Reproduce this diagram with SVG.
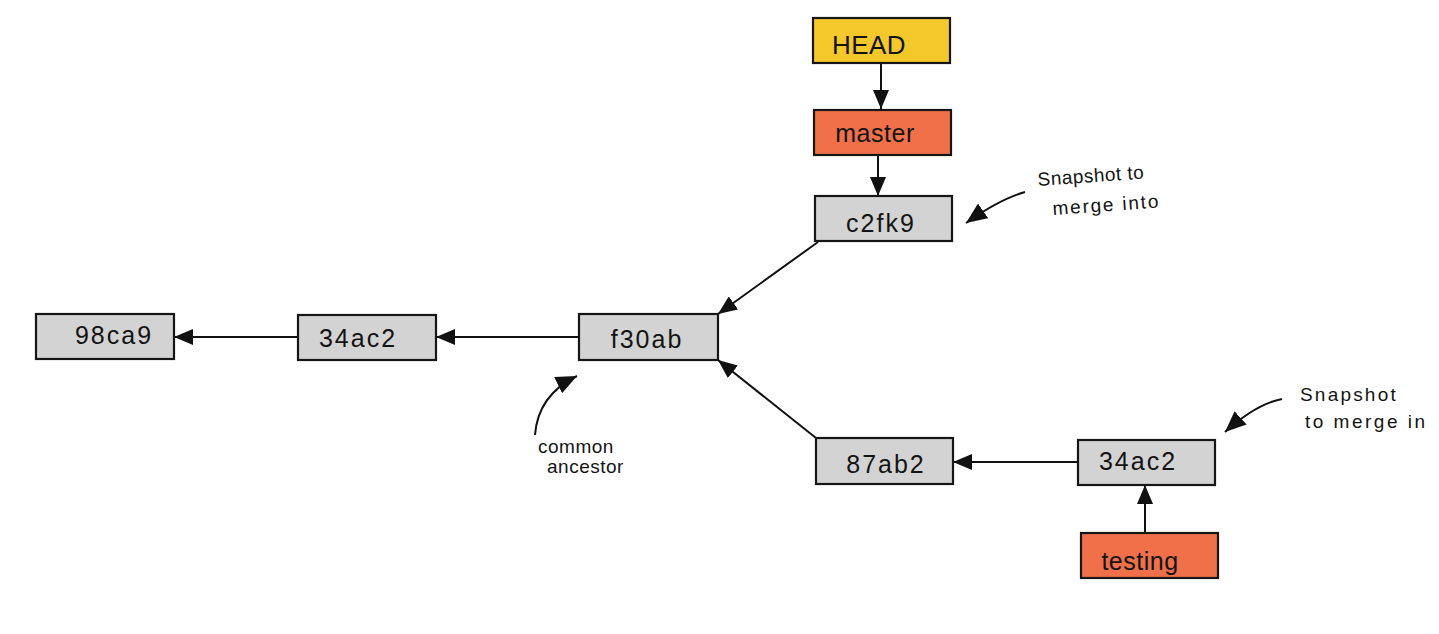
<svg xmlns="http://www.w3.org/2000/svg" width="1439" height="634" viewBox="0 0 1439 634">
  <style>
    .box { stroke: #161616; stroke-width: 2.2; }
    .commit { fill: #d3d3d3; }
    .branch { fill: #ef7049; }
    .head { fill: #f4c72b; }
    .lbl { font-family: "Liberation Sans", "DejaVu Sans", sans-serif; fill: #141414; text-anchor: middle; }
    .hash { font-size: 25px; letter-spacing: 2px; }
    .name { font-size: 25px; letter-spacing: 0.5px; }
    .note { font-family: "Liberation Sans", "DejaVu Sans", sans-serif; fill: #141414; font-size: 19px; }
    .conn { stroke: #111; stroke-width: 2; fill: none; }
  </style>
  <defs>
    <marker id="arr" markerUnits="userSpaceOnUse" markerWidth="20" markerHeight="16" refX="19" refY="8" orient="auto">
      <path d="M0,0 L19,8 L0,16 z" fill="#111"/>
    </marker>
    <marker id="arr2" markerUnits="userSpaceOnUse" markerWidth="22" markerHeight="18" refX="21" refY="9" orient="auto">
      <path d="M0,0 L21,9 L0,18 z" fill="#111"/>
    </marker>
  </defs>
  <rect width="1439" height="634" fill="#ffffff"/>

  <g id="connectors">
    <path class="conn" d="M881,63 L881,109" marker-end="url(#arr)"/>
    <path class="conn" d="M878,155 L878,196" marker-end="url(#arr)"/>
    <path class="conn" d="M818,242 L718,314" marker-end="url(#arr)"/>
    <path class="conn" d="M816,438 L718,360" marker-end="url(#arr)"/>
    <path class="conn" d="M579,337 L436,337" marker-end="url(#arr)"/>
    <path class="conn" d="M298,337 L174,337" marker-end="url(#arr)"/>
    <path class="conn" d="M1078,462 L953,462" marker-end="url(#arr)"/>
    <path class="conn" d="M1145,533 L1145,485" marker-end="url(#arr)"/>
    <path class="conn" d="M1025,192 Q1000,199 966,223" marker-end="url(#arr2)"/>
    <path class="conn" d="M1282,399 Q1256,404 1225,432" marker-end="url(#arr2)"/>
    <path class="conn" d="M535,435 Q538,395 577,376" marker-end="url(#arr2)"/>
  </g>

  <g id="node-head">
    <rect class="box head" x="813" y="18" width="137" height="45"/>
    <text class="lbl name" x="869" y="54" style="font-size:26px">HEAD</text>
  </g>
  <g id="node-master">
    <rect class="box branch" x="814" y="110" width="137" height="45"/>
    <text class="lbl name" x="875" y="142">master</text>
  </g>
  <g id="node-c2fk9">
    <rect class="box commit" x="815" y="196" width="137" height="45"/>
    <text class="lbl hash" x="881" y="232">c2fk9</text>
  </g>
  <g id="node-98ca9">
    <rect class="box commit" x="36" y="314" width="138" height="45"/>
    <text class="lbl hash" x="114" y="344">98ca9</text>
  </g>
  <g id="node-34ac2-a">
    <rect class="box commit" x="298" y="315" width="138" height="45"/>
    <text class="lbl hash" x="358" y="347">34ac2</text>
  </g>
  <g id="node-f30ab">
    <rect class="box commit" x="579" y="314" width="139" height="46"/>
    <text class="lbl hash" x="647" y="348">f30ab</text>
  </g>
  <g id="node-87ab2">
    <rect class="box commit" x="816" y="438" width="137" height="46"/>
    <text class="lbl hash" x="886" y="473">87ab2</text>
  </g>
  <g id="node-34ac2-b">
    <rect class="box commit" x="1078" y="440" width="137" height="45"/>
    <text class="lbl hash" x="1138" y="470">34ac2</text>
  </g>
  <g id="node-testing">
    <rect class="box branch" x="1081" y="533" width="137" height="45"/>
    <text class="lbl name" x="1140" y="570">testing</text>
  </g>

  <g id="note-merge-into">
    <text class="note" x="1038" y="186" letter-spacing="0.5" transform="rotate(-4 1038 186)">Snapshot to</text>
    <text class="note" x="1053" y="215" letter-spacing="1.8" transform="rotate(-4 1053 215)">merge into</text>
  </g>
  <g id="note-merge-in">
    <text class="note" x="1300" y="401" letter-spacing="2.2">Snapshot</text>
    <text class="note" x="1305" y="428" letter-spacing="2.5">to merge in</text>
  </g>
  <g id="note-ancestor">
    <text class="note" x="538" y="453" letter-spacing="0.5">common</text>
    <text class="note" x="547" y="473" letter-spacing="0.5">ancestor</text>
  </g>
</svg>
